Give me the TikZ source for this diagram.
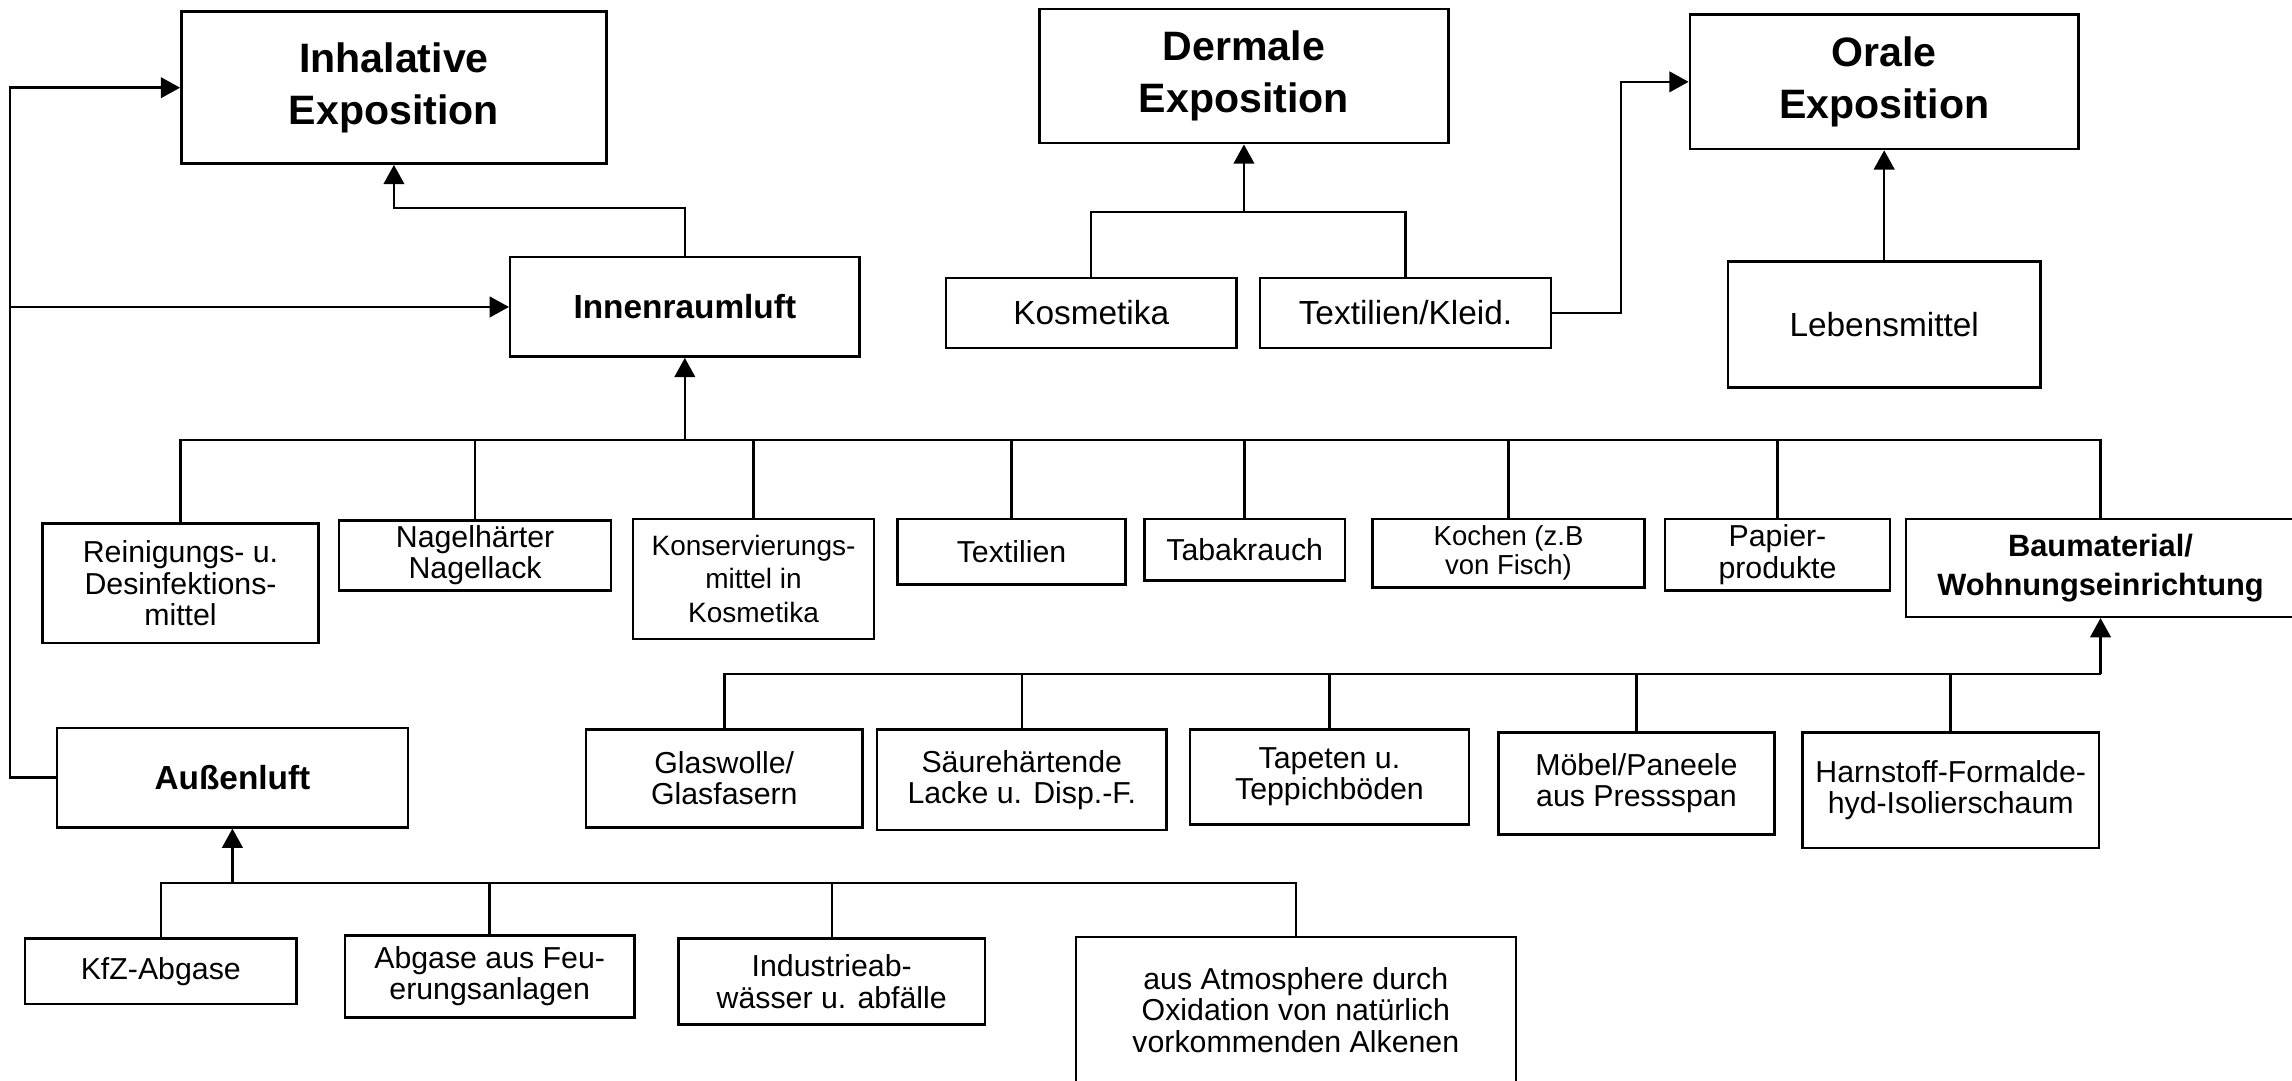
\documentclass[tikz,border=0pt]{standalone}
\usepackage{fontspec}
\setmainfont{Liberation Sans}
\usetikzlibrary{arrows.meta}

\begin{document}
\begin{tikzpicture}[x=0.02cm,y=-0.02cm,line width=0.95pt,
    box/.style={draw,align=center,inner sep=0pt,font=\fontsize{11.8}{12.2}\selectfont},
    expo/.style={box,font=\bfseries\fontsize{16}{20}\selectfont},
    hubbox/.style={box,font=\bfseries\fontsize{13}{15}\selectfont},
    bigbox/.style={box,font=\fontsize{13}{15}\selectfont},
    arr/.style={-{Triangle[length=7.5pt,width=8pt]}}]
    \useasboundingbox (0,0) rectangle (1568,739);

    % routes of exposure
    \node[expo, minimum width=5.82cm, minimum height=2.08cm] (inh) at (269.5,60) {Inhalative\\Exposition};
    \node[expo, minimum width=5.60cm, minimum height=1.84cm] (der) at (851,52) {Dermale\\Exposition};
    \node[expo, minimum width=5.32cm, minimum height=1.84cm] (ora) at (1289,56) {Orale\\Exposition};

    \node[hubbox, minimum width=4.78cm, minimum height=1.36cm] (inn) at (468.5,210) {Innenraumluft};
    \node[bigbox, minimum width=3.98cm, minimum height=0.96cm] (kos) at (746.5,214) {Kosmetika};
    \node[bigbox, minimum width=3.98cm, minimum height=0.96cm] (tex) at (961.5,214) {Textilien/Kleid.};
    \node[bigbox, minimum width=4.28cm, minimum height=1.72cm] (leb) at (1289,222) {Lebensmittel};

    % indoor sources
    \node[box, minimum width=3.78cm, minimum height=1.64cm] (rei) at (123.5,399) {Reinigungs- u.\\Desinfektions-\\mittel};
    \node[box, minimum width=3.72cm, minimum height=0.96cm] (nag) at (325,380) {Nagelhärter\\Nagellack};
    \node[box, minimum width=3.30cm, minimum height=1.64cm, font=\fontsize{10.9}{13}\selectfont] (kon) at (515.5,396) {Konservierungs-\\mittel in\\Kosmetika};
    \node[box, minimum width=3.12cm, minimum height=0.90cm] (txt) at (692,377.5) {Textilien};
    \node[box, minimum width=2.74cm, minimum height=0.84cm] (tab) at (851.5,376) {Tabakrauch};
    \node[box, minimum width=3.72cm, minimum height=0.94cm, font=\fontsize{10.7}{11.2}\selectfont] (koc) at (1032,378.5) {Kochen (z.B\\von Fisch)};
    \node[box, minimum width=3.08cm, minimum height=0.98cm] (pap) at (1216,379.5) {Papier-\\produkte};
    \node[box, minimum width=5.32cm, minimum height=1.34cm, font=\bfseries\fontsize{12}{15}\selectfont] (bau) at (1437,388.5) {Baumaterial/\\Wohnungseinrichtung};

    % building materials
    \node[box, minimum width=3.78cm, minimum height=1.34cm] (gla) at (495.5,532.5) {Glaswolle/\\Glasfasern};
    \node[box, minimum width=3.96cm, minimum height=1.38cm] (sau) at (699,533.5) {Säurehärtende\\Lacke u. Disp.-F.};
    \node[box, minimum width=3.82cm, minimum height=1.30cm] (tap) at (909.5,531.5) {Tapeten u.\\Teppichböden};
    \node[box, minimum width=3.78cm, minimum height=1.40cm] (moe) at (1119.5,536) {Möbel/Paneele\\aus Pressspan};
    \node[box, minimum width=4.06cm, minimum height=1.58cm] (har) at (1334.5,540.5) {Harnstoff-Formalde-\\hyd-Isolierschaum};

    % outdoor air
    \node[hubbox, minimum width=4.80cm, minimum height=1.36cm] (aus) at (159,532) {Außenluft};
    \node[box, minimum width=3.72cm, minimum height=0.90cm] (kfz) at (110,664.5) {KfZ-Abgase};
    \node[box, minimum width=3.96cm, minimum height=1.12cm] (feu) at (335,668) {Abgase aus Feu-\\erungsanlagen};
    \node[box, minimum width=4.20cm, minimum height=1.18cm] (ind) at (569,671.5) {Industrieab-\\wässer u. abfälle};
    \node[box, minimum width=6.02cm, minimum height=2.00cm] (atm) at (886.5,691) {aus Atmosphere durch\\Oxidation von natürlich\\vorkommenden Alkenen};

    \coordinate (lt) at (7,60);
    \coordinate (busA) at (468.5,301);
    \coordinate (busB) at (1437,461);
    \coordinate (busC) at (159,604);
    \coordinate (busD) at (851,145);

    % outdoor air feeds inhaled and indoor air
    \draw[arr] (aus.west) -| (lt) -- (inh.west);
    \draw[arr] (lt |- inn.west) -- (inn.west);
    \draw[arr] (inn.north) -- ++(0,-33) -| (inh.south);

    \draw[arr] (busA) -- (inn.south);
    \draw (rei.north) |- (bau.north |- busA) -- (bau.north);
    \foreach \n in {nag,kon,txt,tab,koc,pap}
      \draw (\n.north) -- (\n.north |- busA);

    \draw[arr] (busB) -- (bau.south);
    \draw (gla.north) |- (busB);
    \foreach \n in {sau,tap,moe,har}
      \draw (\n.north) -- (\n.north |- busB);

    \draw[arr] (busC) -- (aus.south);
    \draw (kfz.north) |- (atm.north |- busC) -- (atm.north);
    \foreach \n in {feu,ind}
      \draw (\n.north) -- (\n.north |- busC);

    \draw[arr] (busD) -- (der.south);
    \draw (kos.north) |- (tex.north |- busD) -- (tex.north);
    \draw[arr] (tex.east) -- ++(47,0) |- (ora.west);
    \draw[arr] (leb.north) -- (ora.south);
\end{tikzpicture}
\end{document}
